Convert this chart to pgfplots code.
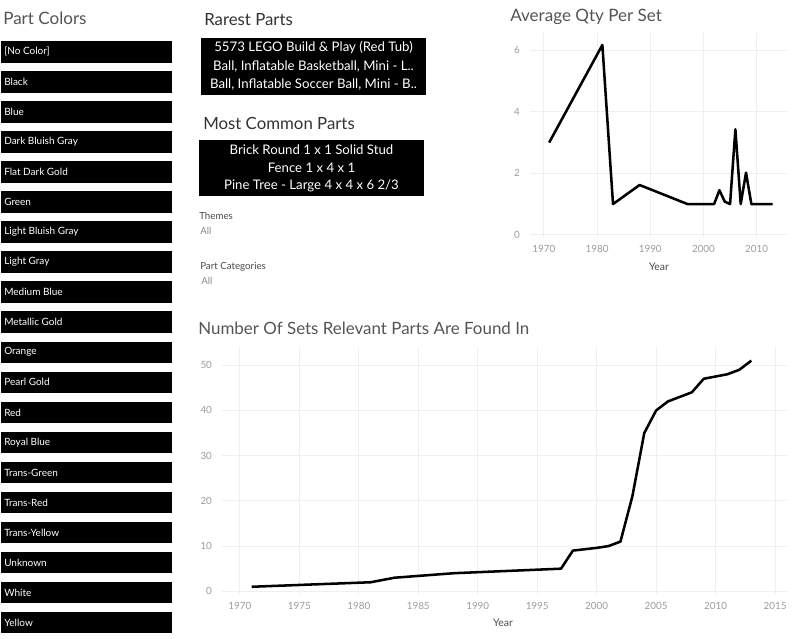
\documentclass[border=0pt]{standalone}
\usepackage{fontspec}
\setmainfont{Lato}
\usepackage{pgfplots}
\pgfplotsset{compat=1.18}
\definecolor{titlegray}{HTML}{555555}
\definecolor{tickgray}{HTML}{9C9C9C}
\definecolor{gridgray}{HTML}{EFEFEF}
\definecolor{labelgray}{HTML}{4A4A4A}
\definecolor{allgray}{HTML}{8C8C8C}
\pgfplotsset{dash/.style={
  scale only axis,
  axis line style={draw=none},
  tick style={draw=none},
  major tick length=0pt,
  grid=major,
  major grid style={color=gridgray, line width=0.6pt},
  ticklabel style={font=\fontsize{7.4}{8.5}\selectfont, text=tickgray},
  /pgf/number format/assume math mode=true,
  xticklabel style={/pgf/number format/1000 sep={}, yshift=-3pt},
  yticklabel style={xshift=-4pt},
}}
\begin{document}
\begin{tikzpicture}[x=0.75pt,y=-0.75pt]
\useasboundingbox[fill=white] (0,0) rectangle (800,639);
% ---- Part Colors list
\node[anchor=west, inner sep=0, text=titlegray, font=\fontsize{12.8}{15}\selectfont] at (3,18) {Part Colors};
\foreach \name [count=\i from 0] in {{[No Color]},Black,Blue,Dark Bluish Gray,Flat Dark Gold,Green,Light Bluish Gray,Light Gray,Medium Blue,Metallic Gold,Orange,Pearl Gold,Red,Royal Blue,Trans-Green,Trans-Red,Trans-Yellow,Unknown,White,Yellow}{
  \pgfmathsetmacro{\yt}{41+\i*30.05}
  \fill[black] (1,\yt) rectangle (172,\yt+21.5);
  \node[anchor=west, inner sep=0, text=white, font=\fontsize{7.5}{8.5}\selectfont] at (4,\yt+10.75) {\name};
}
% ---- Rarest parts
\node[anchor=west, inner sep=0, text=black!80, font=\fontsize{12.6}{15}\selectfont] at (204,20) {Rarest Parts};
\fill[black] (201,38) rectangle (426,95);
\node[text=white, font=\fontsize{9.9}{11}\selectfont, inner sep=0] at (313.5,48) {5573 LEGO Build \& Play (Red Tub)};
\node[text=white, font=\fontsize{9.9}{11}\selectfont, inner sep=0] at (313.5,67) {Ball, Inflatable Basketball, Mini - L..};
\node[text=white, font=\fontsize{9.9}{11}\selectfont, inner sep=0] at (313.5,85) {Ball, Inflatable Soccer Ball, Mini - B..};
% ---- Most common parts
\node[anchor=west, inner sep=0, text=black!80, font=\fontsize{12.6}{15}\selectfont] at (203,123) {Most Common Parts};
\fill[black] (199,140) rectangle (424,196);
\node[text=white, font=\fontsize{9.9}{11}\selectfont, inner sep=0] at (311.5,150) {Brick Round 1 x 1 Solid Stud};
\node[text=white, font=\fontsize{9.9}{11}\selectfont, inner sep=0] at (311.5,168) {Fence 1 x 4 x 1};
\node[text=white, font=\fontsize{9.9}{11}\selectfont, inner sep=0] at (311.5,186) {Pine Tree - Large 4 x 4 x 6 2/3};
% ---- Filters
\node[anchor=west, inner sep=0, text=labelgray, font=\fontsize{7.3}{8.5}\selectfont] at (199,216) {Themes};
\node[anchor=west, inner sep=0, text=allgray, font=\fontsize{7.3}{8.5}\selectfont] at (200,231) {All};
\node[anchor=west, inner sep=0, text=labelgray, font=\fontsize{7.3}{8.5}\selectfont] at (200,267) {Part Categories};
\node[anchor=west, inner sep=0, text=allgray, font=\fontsize{7.3}{8.5}\selectfont] at (201,281) {All};
% ---- Average Qty Per Set
\node[anchor=west, inner sep=0, text=titlegray, font=\fontsize{12.8}{15}\selectfont] at (510,17) {Average Qty Per Set};
\begin{axis}[dash,
  at={(397.5pt,-177.75pt)}, anchor=south west,
  width=192.75pt, height=153pt,
  xmin=1967.4, xmax=2015.7, ymin=-0.07, ymax=6.56,
  xtick={1970,1980,1990,2000,2010}, ytick={0,2,4,6}]
\addplot[black, line width=1.9pt, line join=round] coordinates {
(1971,3.0) (1981,6.17) (1983,1.0) (1988,1.62) (1997,1.0) (2002,1.0)
(2003,1.45) (2004,1.08) (2005,1.0) (2006,3.43) (2007,1.0) (2008,2.02)
(2009,1.0) (2010,1.0) (2011,1.0) (2012,1.0) (2013,1.0)};
\end{axis}
\node[text=labelgray, font=\fontsize{7.8}{9}\selectfont, inner sep=0] at (659,267) {Year};
% ---- Number of sets
\node[anchor=west, inner sep=0, text=titlegray, font=\fontsize{12.7}{15}\selectfont] at (198,328) {Number Of Sets Relevant Parts Are Found In};
\begin{axis}[dash,
  at={(166.5pt,-445.5pt)}, anchor=south west,
  width=423.75pt, height=184.5pt,
  xmin=1968.5, xmax=2016.0, ymin=-0.6, ymax=53.8,
  xtick={1970,1975,...,2015}, ytick={0,10,...,50}]
\addplot[black, line width=1.9pt, line join=round] coordinates {
(1971,1) (1981,2) (1983,3) (1988,4) (1997,5) (1998,9) (2000,9.6) (2001,10)
(2002,11) (2003,21) (2004,35) (2005,40) (2006,42) (2007,43) (2008,44)
(2009,47) (2010,47.5) (2011,48) (2012,49) (2013,51)};
\end{axis}
\node[text=labelgray, font=\fontsize{7.8}{9}\selectfont, inner sep=0] at (503,623) {Year};
\end{tikzpicture}
\end{document}
